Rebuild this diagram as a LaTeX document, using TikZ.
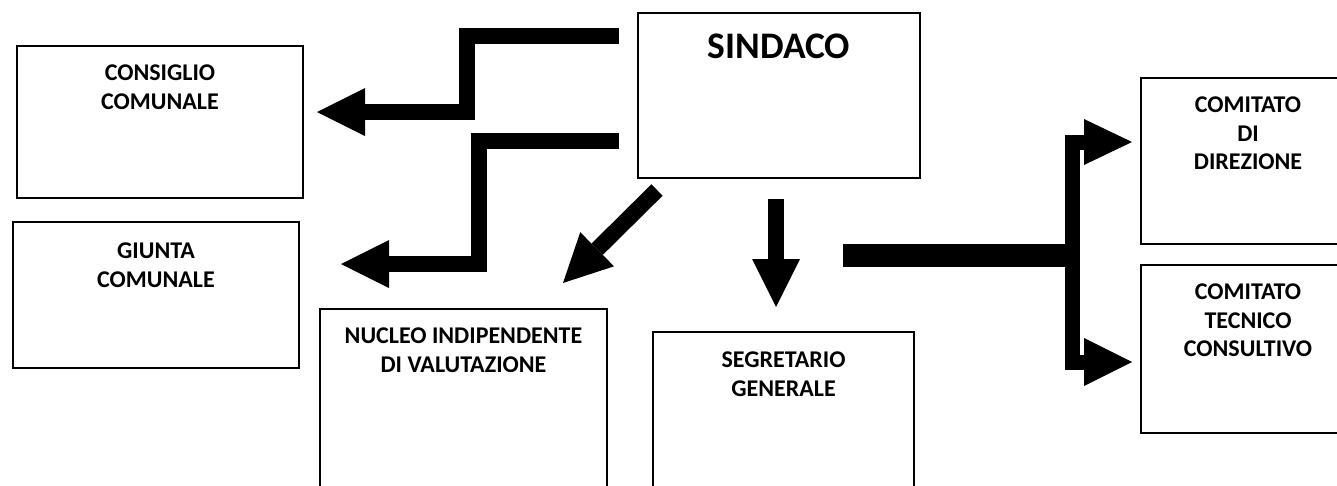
\documentclass[tikz,border=0pt]{standalone}
\usepackage{fontspec}
\setmainfont{Carlito}
\usetikzlibrary{arrows.meta,calc,positioning}

\tikzset{
	box/.style={draw, line width=2pt, inner sep=0pt, anchor=north west},
	lbl/.style={inner sep=0pt, align=center, font=\bfseries\fontsize{24}{28.5}\selectfont},
	fat/.style={line width=16pt, line join=miter, -{Triangle[length=48pt,width=48pt,line width=0pt]}},
}

\begin{document}
\begin{tikzpicture}[x=1pt, y=-1pt]
			%%%%% START %%%%%
			\useasboundingbox (0, 0) rectangle (1337, 485);
			
			\node[box, minimum width=282pt, minimum height=165pt] (sind) at (637, 12) {};
			\node[lbl, font=\bfseries\fontsize{37.5}{42}\selectfont, below=22pt of sind.north] (sindT) {SINDACO};
			
			\node[box, minimum width=286pt, minimum height=152pt] (cons) at (16, 45) {};
			\node[lbl, below=20pt of cons.north] (consT) {CONSIGLIO\\COMUNALE};
			
			\node[box, minimum width=286pt, minimum height=146pt] (giun) at (12, 221) {};
			\node[lbl, below=22pt of giun.north] (giunT) {GIUNTA\\COMUNALE};
			
			\node[box, minimum width=287pt, minimum height=250pt] (nucl) at (319, 308) {};
			\node[lbl, below=20pt of nucl.north] (nuclT) {NUCLEO INDIPENDENTE\\DI VALUTAZIONE};
			
			\node[box, minimum width=261pt, minimum height=250pt] (segr) at (652, 331) {};
			\node[lbl, below=21pt of segr.north] (segrT) {SEGRETARIO\\GENERALE};
			
			\node[box, minimum width=214pt, minimum height=166pt] (cdir) at (1140, 77) {};
			\node[lbl, below=20pt of cdir.north] (cdirT) {COMITATO\\DI\\DIREZIONE};
			
			\node[box, minimum width=214pt, minimum height=168pt] (ctec) at (1140, 264) {};
			\node[lbl, below=20pt of ctec.north] (ctecT) {COMITATO\\TECNICO\\CONSULTIVO};
			
			% free ends of the arrows
			\coordinate (a1) at ($(sind.north west)+(-18, 24)$);
			\coordinate (b1) at ($(cons.north east)+(13, 67)$);
			\coordinate (a2) at ($(sind.north west)+(-18, 129)$);
			\coordinate (b2) at ($(giun.north east)+(41, 43)$);
			\coordinate (a3) at ($(sind.south west)+(20, 11)$);
			\coordinate (b3) at ($(nucl.north west)+(244, -25)$);
			\coordinate (a4) at ($(sind.south)+(-3, 20)$);
			\coordinate (b4) at ($(segr.north)+(-7.5, -24)$);
			\coordinate (tbar) at ($(sind.south east)+(-78, 76.5)$);
			\coordinate (tjoin) at ($(tbar)+(229, 0)$);
			\coordinate (tup) at ($(cdir.west)+(-8, -19)$);
			\coordinate (tdown) at ($(ctec.west)+(-8, 13)$);
			
			\draw[fat] (a1) -- (a1 -| 467, 0) -- (b1 -| 467, 0) -- (b1);
			\draw[fat] (a2) -- (a2 -| 479, 0) -- (b2 -| 479, 0) -- (b2);
			\draw[fat] (a3) -- (b3);
			\draw[fat] (a4) -- (b4);
			
			\draw[line width=23pt] (tbar) -- (tjoin);
			\draw[line width=15pt, line join=miter, {Triangle[length=48pt,width=46pt,line width=0pt]}-{Triangle[length=48pt,width=48pt,line width=0pt]}] (tup) -- (tup -| tjoin) -- (tdown -| tjoin) -- (tdown);
			
			%%%%% END %%%%%
\end{tikzpicture}
\end{document}
